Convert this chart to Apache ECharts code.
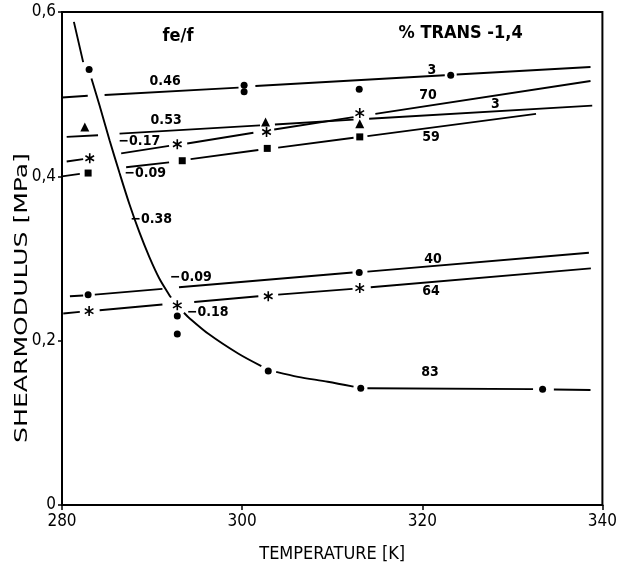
<!DOCTYPE html>
<html>
<head>
<meta charset="utf-8">
<title>Shearmodulus vs temperature</title>
<script src="https://cdn.jsdelivr.net/npm/echarts@6/dist/echarts.min.js"></script>
<style>
  html, body { margin: 0; padding: 0; background: #fff; }
  #chart { width: 620px; height: 572px; }
</style>
</head>
<body>
<div id="chart"></div>
<script>
// axis ticks
const xTicks = [280, 300, 320, 340]
const yTicks = [0, 0.2, 0.4, 0.6]
const yTickLabels = ['0', '0,2', '0,4', '0,6']

// break in a drawn line
const GAP = ['-', '-']

// measured points [T (K), G (MPa)]
const dots46 = [[300.22, 0.511], [300.22, 0.503], [313.0, 0.506], [323.16, 0.523]]
const tri53 = [[282.53, 0.460], [302.6, 0.466], [313.06, 0.464]]
const star17 = [[283.08, 0.422], [292.8, 0.439], [302.71, 0.454], [313.06, 0.477]]
const sq09 = [[282.9, 0.404], [293.35, 0.419], [302.79, 0.434], [313.06, 0.448]]
const dots09 = [[282.9, 0.256], [313.0, 0.283]]
const star18 = [[283.01, 0.236], [292.8, 0.243], [302.9, 0.254], [313.06, 0.264]]
const dots38 = [[283.01, 0.530], [292.8, 0.230], [292.8, 0.208], [302.9, 0.163], [313.17, 0.142], [333.36, 0.141]]

// drawn lines, broken where the original pen lifted
const fit46 = [[280.0, 0.496], [282.86, 0.498], GAP, [284.73, 0.499], [299.6, 0.508], GAP,
  [301.47, 0.510], [322.5, 0.523], GAP, [323.82, 0.524], [338.68, 0.533]]
const fit53 = [[280.52, 0.448], [284.0, 0.450], GAP, [286.39, 0.452], [301.99, 0.462], GAP,
  [303.64, 0.463], [312.37, 0.469], GAP, [314.1, 0.470], [338.87, 0.486]]
const fit17 = [[280.52, 0.418], [282.35, 0.421], GAP, [286.57, 0.428], [291.89, 0.437], GAP,
  [293.9, 0.440], [301.25, 0.453], GAP, [303.56, 0.457], [312.37, 0.472], GAP, [314.79, 0.476], [338.68, 0.516]]
const fit09a = [[280.0, 0.400], [281.98, 0.403], GAP, [287.12, 0.411], [291.89, 0.417], GAP,
  [294.28, 0.421], [301.8, 0.432], GAP, [304.0, 0.435], [312.37, 0.447], GAP, [313.91, 0.449], [332.63, 0.476]]
const fit09b = [[280.88, 0.254], [282.35, 0.255], GAP, [283.64, 0.256], [291.15, 0.263], GAP,
  [292.99, 0.265], [312.26, 0.283], GAP, [313.91, 0.284], [338.5, 0.307]]
const fit18 = [[280.14, 0.233], [281.98, 0.235], GAP, [284.18, 0.237], [291.15, 0.244], GAP,
  [294.68, 0.247], [301.8, 0.254], GAP, [304.0, 0.256], [312.26, 0.263], GAP, [314.28, 0.265], [338.72, 0.288]]
const curve38 = [[281.32, 0.588], [282.35, 0.539], GAP,
  [283.27, 0.519], [284.18, 0.486], [285.28, 0.444], [286.39, 0.404], [287.49, 0.366], [288.59, 0.332],
  [289.69, 0.302], [290.79, 0.276], [291.89, 0.256], [292.11, 0.2525], GAP,
  [293.54, 0.234], [294.09, 0.228], [296.29, 0.208], [299.6, 0.184], [302.13, 0.169], GAP,
  [303.78, 0.162], [306.2, 0.156], [309.51, 0.150], [312.37, 0.144], GAP,
  [313.91, 0.142], [332.3, 0.141], GAP, [334.61, 0.1406], [338.68, 0.140]]

// annotations [text, T, G]
const feLabels = [['0.46', 291.45, 0.515], ['0.53', 291.56, 0.468], ['−0.17', 288.59, 0.442],
  ['−0.09', 289.25, 0.404], ['−0.38', 289.91, 0.348], ['−0.09', 294.31, 0.2775], ['−0.18', 296.18, 0.234]]
const transLabels = [['3', 321.07, 0.529], ['70', 320.63, 0.499], ['3', 328.11, 0.487], ['59', 320.96, 0.448],
  ['40', 321.18, 0.299], ['64', 320.96, 0.260], ['83', 320.85, 0.162]]
const headLabels = [['fe/f', 292.88, 0.571], ['% TRANS -1,4', 324.26, 0.574]]

const font = "'DejaVu Sans Condensed', 'DejaVu Sans', sans-serif"
const asterisk = 'path://M-0.8,-5L0.8,-5L0.8,5L-0.8,5ZM3.93,-3.19L4.73,-1.81L-3.93,3.19L-4.73,1.81ZM-4.73,-1.81L-3.93,-3.19L4.73,1.81L3.93,3.19Z'

const myChart = echarts.init(document.getElementById('chart'))

const lineSeries = (data, smooth) => ({
  type: 'line',
  data,
  smooth: smooth || false,
  showSymbol: false,
  connectNulls: false,
  lineStyle: { color: '#000', width: 1.9 },
  z: 2,
})

const markSeries = (data, symbol, size) => ({
  type: 'scatter',
  data,
  symbol,
  symbolSize: size,
  symbolKeepAspect: true,
  itemStyle: { color: '#000', opacity: 1 },
  z: 3,
})

const textSeries = (data, size, weight) => ({
  type: 'scatter',
  data,
  symbolSize: 1,
  itemStyle: { color: 'rgba(0,0,0,0)', opacity: 1 },
  label: {
    show: true,
    position: 'inside',
    formatter: (p) => p.data[0],
    color: '#000',
    fontSize: size,
    fontWeight: weight,
    fontFamily: font,
  },
  encode: { x: 1, y: 2 },
  z: 4,
})

const option = {
  animation: false,
  backgroundColor: '#fff',
  grid: {
    left: 62,
    right: 13,
    top: 12,
    bottom: 67,
    show: true,
    borderColor: '#000',
    borderWidth: 2,
  },
  xAxis: {
    type: 'value',
    min: xTicks[0],
    max: xTicks[xTicks.length - 1],
    interval: xTicks[1] - xTicks[0],
    name: 'TEMPERATURE [K]',
    nameLocation: 'middle',
    nameGap: 40,
    nameTextStyle: { color: '#000', fontSize: 18, fontFamily: font },
    axisLine: { lineStyle: { color: '#000', width: 2 } },
    axisTick: { length: 5, lineStyle: { color: '#000', width: 1.5 } },
    axisLabel: { color: '#000', fontSize: 17, fontFamily: font, margin: 8 },
    splitLine: { show: false },
  },
  yAxis: {
    type: 'value',
    min: yTicks[0],
    max: yTicks[yTicks.length - 1],
    interval: yTicks[1] - yTicks[0],
    axisLine: { lineStyle: { color: '#000', width: 2 } },
    axisTick: { length: 4, lineStyle: { color: '#000', width: 1.5 } },
    axisLabel: {
      color: '#000',
      fontSize: 17,
      fontFamily: font,
      margin: 6,
      formatter: (v) => yTickLabels[yTicks.findIndex((t) => Math.abs(t - v) < 1e-6)],
    },
    splitLine: { show: false },
  },
  graphic: [{
    type: 'text',
    x: 22,
    y: 298,
    rotation: Math.PI / 2,
    scaleX: 1.55,
    style: {
      text: 'SHEARMODULUS [MPa]',
      font: '18px ' + font,
      fill: '#000',
      textAlign: 'center',
      textVerticalAlign: 'middle',
    },
  }],
  series: [
    lineSeries(fit46),
    lineSeries(fit53),
    lineSeries(fit17),
    lineSeries(fit09a),
    lineSeries(fit09b),
    lineSeries(fit18),
    lineSeries(curve38, 0.3),
    markSeries(dots46, 'circle', 7),
    markSeries(tri53, 'triangle', 9),
    markSeries(star17, asterisk, 10),
    markSeries(sq09, 'rect', 7),
    markSeries(dots09, 'circle', 7),
    markSeries(star18, asterisk, 10),
    markSeries(dots38, 'circle', 7),
    textSeries(feLabels, 14, 'bold'),
    textSeries(transLabels, 14, 'bold'),
    textSeries(headLabels, 18, 'bold'),
  ],
}

myChart.setOption(option)
</script>
</body>
</html>
